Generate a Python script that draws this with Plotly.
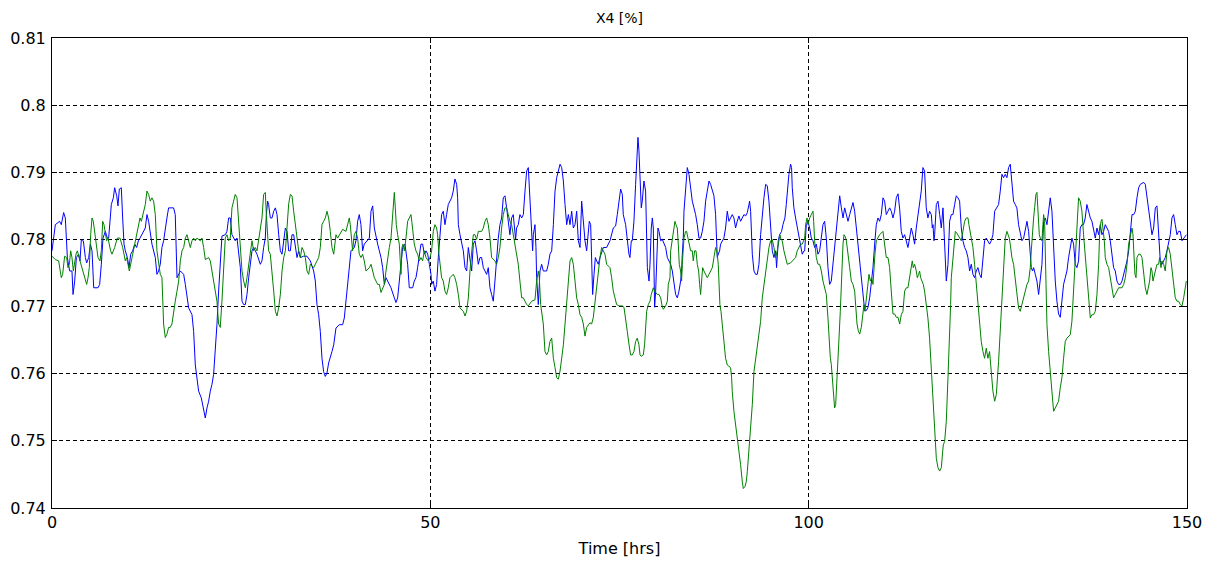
import plotly.graph_objects as go

# ---- data (time in hrs, X4 in %) ----
blue_time = [0.00, 0.44, 1.01, 1.23, 1.54, 1.76, 2.03, 2.33, 2.64, 2.78, 3.00, 3.22, 3.52, 3.70, 3.88, 4.14, 4.41, 4.58, 4.85, 5.07, 5.29, 5.51, 6.08, 6.30, 6.52, 6.74, 7.05, 7.31, 7.49, 7.67, 7.84, 8.11, 8.28, 8.55, 8.72, 8.90, 9.16, 9.34, 9.52, 9.69, 9.96, 10.18, 10.40, 10.66, 10.93, 11.19, 11.41, 11.63, 11.89, 12.16, 12.33,
             12.55, 12.77, 13.21, 13.65, 13.87, 14.09, 14.31, 14.53, 14.75, 14.97, 15.19, 15.41, 16.07, 16.29, 16.52, 16.96, 17.40, 17.62, 18.06, 18.50, 18.72, 18.94, 19.38, 19.73, 20.04, 20.26, 20.48, 20.70, 20.92, 21.14, 21.36, 21.58, 21.80, 22.02, 22.24, 22.46, 22.90, 23.12, 23.34, 23.56, 23.78, 24.22, 24.45, 24.67, 24.89, 25.11,
             25.33, 25.55, 25.77, 25.99, 26.21, 26.43, 26.65, 27.09, 27.53, 27.75, 27.97, 28.19, 28.33, 28.50, 28.63, 28.85, 29.08, 29.30, 29.52, 29.74, 29.96, 30.18, 30.40, 30.62, 30.84, 31.06, 31.28, 31.50, 31.72, 31.94, 32.16, 32.38, 32.60, 32.82, 33.26, 33.70, 34.14, 34.58, 34.80, 35.02, 35.24, 35.46, 35.68, 35.90, 36.12, 36.34, 36.56, 36.78, 37.00, 37.23, 37.45,
             37.53, 37.97, 38.41, 38.63, 38.85, 39.07, 39.29, 39.51, 39.95, 40.17, 40.39, 40.61, 40.83, 41.05, 41.27, 41.72, 41.94, 42.16, 42.38, 42.60, 42.82, 43.04, 43.26, 43.48, 43.70, 43.92, 44.14, 44.36, 44.80, 45.24, 45.46, 45.68, 45.90, 46.12, 46.34, 46.65, 46.78, 47.00, 47.22, 47.66, 47.88, 48.10, 48.32, 48.54, 48.76, 48.98, 49.21, 49.43, 49.65, 49.87, 50.09,
             50.17, 50.39, 50.61, 50.83, 51.05, 51.27, 51.49, 51.71, 51.93, 52.15, 52.37, 52.81, 53.03, 53.25, 53.48, 53.61, 53.70, 53.92, 54.14, 54.36, 54.58, 54.80, 55.02, 55.24, 55.46, 55.68, 55.90, 56.12, 56.34, 56.56, 56.78, 57.00, 57.22, 57.44, 57.66, 57.88, 58.10, 58.32, 58.54, 58.76, 58.98, 59.20, 59.42, 59.64, 59.86, 60.08, 60.30, 60.52, 60.74, 60.96, 61.27, 61.40, 61.62, 61.84,
             62.07, 62.29, 62.51, 62.73, 62.95, 63.08, 63.26, 63.39, 63.52, 63.61, 63.83, 63.96, 64.05, 64.27, 64.49, 64.71, 64.93, 65.37, 65.59, 65.81, 66.04, 66.26, 66.48, 66.70, 66.92, 67.14, 67.36, 67.58, 67.80, 68.02, 68.24, 68.46, 68.68, 68.90, 69.12, 69.34, 69.56, 69.78, 70.00, 70.22, 70.44, 70.66, 70.88, 71.01, 71.19, 71.32, 71.45, 71.63, 71.81, 71.98, 72.20, 72.42, 72.86, 73.30, 73.74, 74.18,
             74.49, 74.71, 74.93, 75.15, 75.37, 75.50, 75.81, 76.03, 76.25, 76.38, 76.56, 76.69, 76.91, 77.13, 77.35, 77.44, 77.57, 77.71, 77.88, 78.01, 78.23, 78.45, 78.59, 78.68, 78.90, 79.03, 79.20, 79.34, 79.47, 79.56, 79.64, 79.78, 79.91, 80.08, 80.22, 80.44, 80.66, 80.88, 81.10, 81.32, 81.76, 81.98, 82.20, 82.42, 82.64, 82.86, 83.08, 83.21, 83.30, 83.43, 83.52, 83.74, 83.96, 84.18, 84.40, 84.62, 84.84, 85.06, 85.28, 85.50, 85.72, 85.94, 86.16, 86.38, 86.60, 86.83,
             87.04, 87.26, 87.48, 87.70, 87.79, 87.92, 88.05, 88.23, 88.36, 88.58, 88.80, 89.02, 89.24, 89.46, 89.68, 89.90, 90.12, 90.34, 90.56, 90.78, 91.00, 91.23, 91.45, 91.67, 91.89, 92.11, 92.19, 92.33, 92.46, 92.55, 92.77, 92.99, 93.21, 93.43, 93.65, 93.87, 94.09, 94.31, 94.53, 94.75, 94.97, 95.19, 95.41, 95.63, 95.76, 95.85, 95.98, 96.16, 96.42, 96.60, 96.86, 97.04, 97.22, 97.39, 97.61, 97.74, 97.83, 98.05, 98.27, 98.49, 98.71, 98.93, 99.15, 99.38,
             99.47, 99.69, 99.91, 100.13, 100.35, 100.57, 100.79, 101.01, 101.23, 101.45, 101.67, 101.89, 102.11, 102.33, 102.55, 102.77, 102.99, 103.21, 103.43, 103.66, 103.88, 104.10, 104.32, 104.54, 104.76, 104.98, 105.20, 105.42, 105.64, 105.86, 106.08, 106.30, 106.52, 106.74, 106.96, 107.18, 107.40, 107.62, 107.84, 108.06, 108.28, 108.50, 108.72, 108.94, 109.16, 109.38, 109.60, 109.82, 110.04, 110.26, 110.48, 110.70, 110.92, 111.14, 111.36, 111.58, 111.81, 112.03,
             112.24, 112.46, 112.68, 112.90, 113.12, 113.34, 113.56, 113.78, 114.00, 114.22, 114.44, 114.66, 114.88, 115.10, 115.32, 115.54, 115.76, 115.98, 116.21, 116.34, 116.43, 116.56, 116.65, 116.87, 117.09, 117.31, 117.53, 117.75, 117.97, 118.19, 118.41, 118.63, 118.85, 119.07, 119.29, 119.51, 119.73, 119.95, 120.17, 120.39, 120.61, 120.83, 121.05, 121.27, 121.49, 121.71, 121.93, 122.15, 122.37, 122.59, 122.81, 123.03, 123.25, 123.47, 123.69, 123.91, 124.13, 124.35, 124.58, 124.80,
             125.10, 125.32, 125.54, 125.76, 125.98, 126.20, 126.42, 126.64, 126.86, 127.08, 127.30, 127.52, 127.74, 127.96, 128.18, 128.41, 128.63, 128.85, 129.07, 129.29, 129.42, 129.59, 129.73, 129.95, 130.17, 130.39, 130.61, 130.83, 131.05, 131.27, 131.49, 131.71, 131.93, 132.15, 132.37, 132.59, 132.81, 133.03, 133.25, 133.47, 133.69, 133.91, 134.13, 134.35, 134.57, 134.79, 135.01, 135.23, 135.45, 135.67, 135.89, 136.11, 136.33, 136.55, 136.77, 136.99, 137.22, 137.44,
             137.66, 137.88, 138.10, 138.32, 138.54, 138.76, 138.98, 139.20, 139.42, 139.64, 139.86, 140.08, 140.30, 140.52, 140.74, 140.96, 141.19, 141.41, 141.63, 141.85, 142.07, 142.29, 142.51, 142.73, 142.95, 143.17, 143.39, 143.61, 143.83, 144.27, 144.49, 144.71, 144.93, 145.15, 145.37, 145.59, 145.81, 146.03, 146.25, 146.47, 146.69, 146.91, 147.13, 147.35, 147.57, 147.79, 148.01, 148.23, 148.45, 148.67, 148.89, 149.11, 149.34, 149.56, 149.91]

blue_x4 = [.7783, .7822, .7827, .7822, .7840, .7832, .7773, .7753, .7753, .7718, .7738, .7773, .7778, .7768, .7800, .7798, .7773, .7765, .7773, .7793, .7783, .7728, .7728, .7733, .7763, .7802, .7812, .7802, .7802, .7827, .7852, .7862, .7877, .7865, .7850, .7875, .7877, .7832, .7793, .7783, .7773, .7758, .7778, .7783, .7793, .7788, .7798, .7802, .7807, .7812, .7817,
           .7837, .7827, .7793, .7773, .7748, .7753, .7763, .7788, .7798, .7812, .7832, .7847, .7847, .7837, .7743, .7753, .7748, .7733, .7698, .7688, .7663, .7613, .7574, .7564, .7544, .7534, .7549, .7559, .7574, .7584, .7599, .7633, .7673, .7723, .7773, .7805, .7807, .7812, .7832, .7832, .7807, .7798, .7802, .7783, .7758, .7708,
           .7703, .7703, .7718, .7743, .7763, .7783, .7788, .7778, .7763, .7768, .7788, .7802, .7837, .7857, .7852, .7832, .7832, .7842, .7847, .7837, .7807, .7783, .7778, .7798, .7817, .7812, .7783, .7783, .7807, .7807, .7788, .7773, .7783, .7773, .7775, .7775, .7768, .7753, .7738, .7703, .7688, .7663, .7623, .7603, .7596, .7601, .7616, .7623, .7633, .7643, .7658,
           .7668, .7673, .7673, .7683, .7708, .7743, .7763, .7783, .7788, .7798, .7827, .7837, .7822, .7783, .7793, .7800, .7802, .7842, .7850, .7817, .7802, .7793, .7783, .7773, .7758, .7733, .7743, .7738, .7728, .7713, .7706, .7713, .7738, .7763, .7788, .7793, .7783, .7763, .7728, .7728, .7738, .7743, .7758, .7773, .7793, .7793, .7778, .7783, .7778, .7763, .7748,
           .7733, .7738, .7723, .7733, .7773, .7807, .7837, .7842, .7822, .7837, .7852, .7862, .7872, .7890, .7882, .7862, .7822, .7807, .7793, .7783, .7758, .7753, .7788, .7773, .7753, .7793, .7798, .7783, .7763, .7773, .7773, .7758, .7753, .7748, .7758, .7728, .7718, .7708, .7738, .7773, .7802, .7822, .7832, .7862, .7865, .7847, .7822, .7807, .7832, .7837, .7800, .7817, .7822, .7837,
           .7832, .7837, .7872, .7902, .7907, .7877, .7822, .7798, .7783, .7807, .7822, .7788, .7743, .7703, .7753, .7763, .7753, .7753, .7763, .7778, .7783, .7822, .7872, .7892, .7902, .7912, .7907, .7887, .7852, .7822, .7837, .7822, .7842, .7817, .7822, .7842, .7798, .7788, .7857, .7822, .7798, .7783, .7807, .7827, .7822, .7758, .7718, .7748, .7773, .7768, .7763, .7773, .7788, .7788, .7798, .7817,
           .7820, .7837, .7857, .7875, .7867, .7837, .7822, .7798, .7778, .7773, .7798, .7798, .7827, .7882, .7942, .7952, .7932, .7882, .7847, .7857, .7887, .7872, .7817, .7758, .7738, .7763, .7817, .7832, .7817, .7763, .7699, .7723, .7763, .7817, .7812, .7798, .7800, .7793, .7788, .7773, .7763, .7753, .7733, .7718, .7713, .7723, .7738, .7753, .7778, .7802, .7842, .7882, .7907, .7897, .7872, .7857, .7847, .7837, .7822, .7802, .7802, .7812, .7827, .7857, .7872, .7887,
           .7882, .7872, .7865, .7837, .7807, .7773, .7778, .7783, .7793, .7798, .7802, .7817, .7842, .7827, .7832, .7837, .7832, .7817, .7827, .7835, .7827, .7832, .7837, .7835, .7840, .7852, .7857, .7842, .7812, .7778, .7753, .7748, .7748, .7763, .7807, .7842, .7862, .7882, .7880, .7857, .7812, .7783, .7773, .7783, .7758, .7773, .7798, .7807, .7812, .7822, .7832, .7852, .7882, .7897, .7912, .7907, .7877, .7847, .7832, .7817, .7807, .7788, .7778, .7783,
           .7783, .7822, .7827, .7817, .7802, .7798, .7788, .7793, .7778, .7783, .7807, .7822, .7827, .7802, .7758, .7733, .7738, .7763, .7793, .7812, .7842, .7865, .7847, .7832, .7847, .7837, .7827, .7837, .7847, .7855, .7842, .7817, .7788, .7763, .7743, .7718, .7694, .7694, .7699, .7713, .7733, .7758, .7793, .7822, .7832, .7827, .7837, .7862, .7857, .7837, .7842, .7847, .7842, .7832, .7842, .7862, .7868, .7845,
           .7812, .7802, .7807, .7798, .7788, .7802, .7817, .7807, .7793, .7817, .7837, .7852, .7872, .7907, .7902, .7847, .7832, .7842, .7837, .7817, .7822, .7798, .7807, .7852, .7857, .7837, .7817, .7847, .7783, .7738, .7763, .7827, .7837, .7837, .7852, .7865, .7862, .7857, .7817, .7798, .7788, .7783, .7773, .7753, .7763, .7748, .7743, .7753, .7758, .7748, .7743, .7773, .7798, .7802, .7798, .7793, .7798, .7807, .7842, .7847,
           .7852, .7872, .7897, .7892, .7897, .7892, .7907, .7912, .7887, .7857, .7852, .7847, .7822, .7812, .7798, .7802, .7817, .7827, .7812, .7773, .7758, .7753, .7758, .7748, .7738, .7718, .7743, .7763, .7827, .7832, .7822, .7847, .7862, .7842, .7783, .7738, .7708, .7689, .7684, .7713, .7733, .7743, .7753, .7773, .7788, .7802, .7793, .7763, .7758, .7768, .7817, .7822, .7822, .7832, .7852, .7842, .7832, .7827,
           .7812, .7802, .7817, .7807, .7822, .7807, .7812, .7822, .7817, .7812, .7798, .7773, .7758, .7753, .7738, .7733, .7733, .7738, .7748, .7758, .7768, .7783, .7817, .7837, .7837, .7842, .7862, .7877, .7882, .7885, .7882, .7862, .7842, .7827, .7807, .7817, .7847, .7850, .7807, .7768, .7763, .7768, .7773, .7783, .7798, .7807, .7832, .7837, .7822, .7807, .7812, .7812, .7798, .7802, .7807]

green_time = [0.00, 0.44, 0.88, 1.23, 1.41, 1.67, 1.94, 2.11, 2.29, 2.47, 2.64, 2.82, 3.17, 3.35, 3.70, 4.05, 4.41, 4.58, 4.76, 4.93, 5.11, 5.29, 5.46, 5.64, 5.81, 6.08, 6.34, 6.52, 6.70, 6.87, 7.22, 7.40, 7.75, 7.93, 8.28, 8.63, 8.99, 9.34, 9.69, 9.87, 10.22, 10.57, 10.93, 11.28, 11.45, 11.63, 11.81, 12.16, 12.33,
              12.55, 12.77, 12.99, 13.21, 13.43, 13.65, 13.87, 14.09, 14.31, 14.53, 14.62, 14.75, 14.97, 15.19, 15.41, 15.63, 15.85, 16.07, 16.29, 16.52, 16.74, 16.96, 17.18, 17.40, 17.62, 17.84, 18.06, 18.28, 18.50, 18.72, 18.94, 19.16, 19.60, 19.82, 20.04, 20.26, 20.70, 20.92, 21.14, 21.36, 21.58, 21.80, 22.02, 22.24, 22.46, 22.68, 22.90, 23.12, 23.34, 23.56, 23.78, 24.00, 24.22, 24.45, 24.67,
              24.89, 25.11, 25.33, 25.55, 25.77, 25.99, 26.21, 26.43, 26.65, 26.87, 27.09, 27.31, 27.53, 27.75, 27.97, 28.19, 28.33, 28.50, 28.63, 28.85, 29.08, 29.30, 29.52, 29.74, 29.96, 30.18, 30.40, 30.62, 30.84, 31.06, 31.28, 31.50, 31.72, 31.94, 32.16, 32.38, 32.60, 32.82, 33.04, 33.26, 33.48, 33.70, 33.92, 34.14, 34.58, 35.02, 35.24, 35.46, 35.68, 35.90, 36.12, 36.34, 36.56, 36.78, 37.00, 37.23,
              37.53, 37.75, 37.97, 38.41, 38.85, 39.07, 39.29, 39.42, 39.60, 39.73, 39.95, 40.17, 40.39, 40.61, 40.83, 41.05, 41.27, 41.50, 41.94, 42.16, 42.38, 42.60, 43.04, 43.26, 43.48, 43.70, 43.92, 44.14, 44.36, 44.58, 44.80, 45.02, 45.15, 45.24, 45.37, 45.50, 45.68, 45.90, 46.12, 46.25, 46.39, 46.56, 46.78, 47.00, 47.22, 47.44, 47.57, 47.75, 47.88, 48.10, 48.32, 48.54, 48.76, 48.98, 49.21, 49.43,
              49.73, 49.95, 50.17, 50.39, 50.61, 50.83, 50.96, 51.14, 51.27, 51.49, 51.71, 51.93, 52.15, 52.37, 52.59, 53.03, 53.25, 53.48, 53.70, 53.92, 54.36, 54.58, 54.80, 55.02, 55.24, 55.46, 55.68, 55.90, 56.12, 56.34, 56.78, 57.00, 57.22, 57.44, 57.66, 57.88, 58.10, 58.54, 58.76, 58.98, 59.20, 59.42, 59.64, 59.86, 60.08, 60.30, 60.52, 60.74, 60.96, 61.18, 61.40, 61.62, 61.84, 62.07,
              62.29, 62.51, 62.73, 62.95, 63.39, 63.83, 64.05, 64.27, 64.40, 64.58, 64.71, 64.93, 65.15, 65.37, 65.59, 65.81, 66.04, 66.17, 66.26, 66.48, 66.70, 66.92, 67.14, 67.36, 67.58, 67.80, 68.02, 68.24, 68.46, 68.68, 68.90, 69.12, 69.34, 69.56, 69.78, 70.00, 70.22, 70.44, 70.66, 71.10, 71.32, 71.54, 71.76, 71.98, 72.20, 72.42, 72.64, 72.86, 73.08, 73.30, 73.74, 73.96, 74.18, 74.40, 74.62,
              74.93, 75.37, 75.59, 75.81, 76.03, 76.25, 76.47, 76.69, 76.91, 77.13, 77.35, 77.57, 77.71, 77.88, 78.15, 78.32, 78.45, 78.59, 78.81, 79.03, 79.20, 79.47, 79.64, 80.00, 80.22, 80.44, 80.66, 80.79, 81.10, 81.32, 81.45, 81.67, 81.76, 81.98, 82.20, 82.33, 82.46, 82.64, 82.77, 82.90, 83.08, 83.21, 83.30, 83.43, 83.52, 83.74, 83.87, 84.05, 84.23, 84.40, 84.62, 84.75, 84.93, 85.11, 85.28, 85.46, 85.59, 85.72, 85.85, 85.99, 86.16, 86.38, 86.60, 86.83, 87.05, 87.27,
              87.48, 87.61, 87.70, 87.83, 87.92, 88.05, 88.14, 88.27, 88.41, 88.58, 88.80, 88.93, 89.02, 89.24, 89.46, 89.68, 89.82, 89.90, 90.12, 90.34, 90.56, 90.78, 91.00, 91.23, 91.36, 91.58, 91.75, 91.89, 92.02, 92.19, 92.33, 92.46, 92.55, 92.77, 92.99, 93.21, 93.43, 93.65, 93.87, 94.09, 94.31, 94.53, 94.75, 94.97, 95.19, 95.41, 95.63, 95.85, 96.07, 96.20, 96.34, 96.51, 96.73, 96.95, 97.17, 97.61, 98.05, 98.27, 98.49, 98.71, 98.93, 99.15, 99.38,
              99.47, 99.60, 99.78, 99.91, 100.13, 100.35, 100.57, 100.66, 100.79, 101.01, 101.23, 101.45, 101.67, 101.89, 102.11, 102.33, 102.55, 102.69, 102.86, 102.99, 103.13, 103.30, 103.43, 103.57, 103.66, 103.79, 103.92, 104.01, 104.18, 104.32, 104.45, 104.54, 104.67, 104.80, 104.98, 105.11, 105.24, 105.42, 105.64, 105.86, 106.08, 106.21, 106.39, 106.56, 106.74, 106.96, 107.18, 107.31, 107.44, 107.62, 107.84, 107.97, 108.15, 108.33, 108.50, 108.63, 108.76, 108.94, 109.16, 109.38, 109.82, 110.04, 110.26, 110.48, 110.70, 110.92, 111.14, 111.36, 111.58, 111.81, 112.03,
              112.24, 112.46, 112.68, 112.90, 113.12, 113.34, 113.56, 113.69, 113.83, 114.00, 114.22, 114.36, 114.53, 114.66, 114.80, 114.97, 115.15, 115.32, 115.54, 115.76, 115.98, 116.12, 116.21, 116.43, 116.56, 116.73, 116.87, 117.09, 117.31, 117.53, 117.66, 117.79, 117.97, 118.19, 118.41, 118.63, 118.76, 118.85, 119.07, 119.29, 119.38, 119.55, 119.73, 119.95, 120.17, 120.39, 120.61, 120.83, 121.05, 121.18, 121.32, 121.49, 121.71, 121.93, 122.15, 122.37, 122.59, 122.81, 123.03, 123.25, 123.47, 123.69, 123.91, 124.13, 124.35, 124.58, 124.80,
              125.10, 125.32, 125.54, 125.76, 125.89, 125.98, 126.20, 126.33, 126.51, 126.64, 126.86, 127.08, 127.30, 127.52, 127.74, 127.96, 128.18, 128.41, 128.63, 128.85, 129.07, 129.29, 129.42, 129.59, 129.73, 129.86, 130.03, 130.17, 130.30, 130.48, 130.61, 130.83, 130.96, 131.05, 131.18, 131.36, 131.49, 131.71, 131.93, 132.15, 132.37, 132.59, 132.81, 133.03, 133.25, 133.47, 133.69, 133.91, 134.13, 134.57, 134.79, 135.01, 135.23, 135.45, 135.67, 135.89, 136.11, 136.33, 136.55, 136.77, 136.99,
              137.22, 137.44, 137.66, 137.88, 138.10, 138.32, 138.45, 138.63, 138.76, 138.89, 139.07, 139.20, 139.42, 139.64, 139.86, 140.08, 140.30, 140.52, 140.96, 141.41, 141.63, 141.85, 142.07, 142.29, 142.51, 142.73, 142.86, 142.99, 143.12, 143.26, 143.39, 143.61, 143.83, 144.05, 144.27, 144.49, 144.71, 144.93, 145.06, 145.24, 145.37, 145.50, 145.68, 145.81, 146.03, 146.25, 146.38, 146.56, 146.69, 146.91, 147.13, 147.35, 147.57, 147.79, 148.01, 148.23, 148.45, 148.67, 148.89, 149.11, 149.34, 149.56, 149.78, 149.91]

green_x4 = [.7775, .7770, .7768, .7743, .7748, .7775, .7773, .7758, .7763, .7783, .7773, .7753, .7778, .7783, .7768, .7753, .7738, .7733, .7743, .7758, .7807, .7832, .7827, .7812, .7793, .7773, .7768, .7783, .7827, .7822, .7798, .7802, .7783, .7778, .7788, .7802, .7802, .7788, .7768, .7773, .7753, .7773, .7793, .7812, .7827, .7832, .7827, .7842, .7852,
            .7872, .7867, .7857, .7862, .7857, .7837, .7783, .7763, .7748, .7743, .7698, .7674, .7654, .7659, .7669, .7669, .7674, .7693, .7708, .7723, .7738, .7768, .7783, .7788, .7802, .7807, .7798, .7788, .7798, .7802, .7798, .7802, .7798, .7802, .7788, .7770, .7773, .7768, .7753, .7738, .7728, .7708, .7674, .7669, .7708, .7768, .7802, .7807, .7798, .7802, .7847, .7857, .7867, .7862, .7827,
            .7783, .7753, .7738, .7728, .7743, .7763, .7783, .7798, .7783, .7788, .7783, .7802, .7817, .7832, .7867, .7870, .7837, .7798, .7783, .7778, .7753, .7723, .7693, .7686, .7699, .7718, .7753, .7773, .7783, .7822, .7853, .7867, .7865, .7842, .7822, .7807, .7783, .7773, .7788, .7783, .7773, .7753, .7748, .7763, .7758, .7768, .7773, .7788, .7822, .7827, .7832, .7842, .7832, .7812, .7788, .7778,
            .7807, .7802, .7807, .7815, .7812, .7822, .7832, .7822, .7798, .7783, .7807, .7812, .7802, .7778, .7773, .7778, .7768, .7753, .7758, .7763, .7753, .7743, .7733, .7733, .7721, .7728, .7733, .7753, .7773, .7788, .7802, .7837, .7868, .7870, .7847, .7822, .7807, .7793, .7748, .7788, .7793, .7783, .7802, .7827, .7832, .7837, .7825, .7802, .7793, .7783, .7778, .7768, .7773, .7768, .7783, .7773,
            .7768, .7773, .7783, .7812, .7822, .7817, .7807, .7778, .7763, .7743, .7738, .7723, .7718, .7728, .7743, .7748, .7743, .7733, .7718, .7698, .7693, .7686, .7693, .7713, .7753, .7783, .7807, .7807, .7800, .7812, .7812, .7817, .7827, .7832, .7822, .7802, .7773, .7768, .7763, .7773, .7788, .7817, .7837, .7847, .7847, .7837, .7827, .7822, .7807, .7798, .7783, .7763, .7738, .7713,
            .7713, .7708, .7703, .7701, .7708, .7710, .7738, .7753, .7743, .7703, .7693, .7674, .7633, .7628, .7633, .7648, .7653, .7633, .7623, .7609, .7594, .7592, .7604, .7623, .7643, .7674, .7708, .7733, .7768, .7773, .7763, .7738, .7713, .7703, .7688, .7684, .7674, .7656, .7669, .7676, .7674, .7684, .7708, .7733, .7758, .7773, .7788, .7783, .7778, .7763, .7758, .7743, .7723, .7713, .7703,
            .7701, .7701, .7699, .7684, .7663, .7644, .7628, .7628, .7633, .7648, .7653, .7643, .7628, .7626, .7628, .7644, .7663, .7693, .7703, .7708, .7718, .7728, .7723, .7718, .7718, .7713, .7699, .7696, .7701, .7708, .7733, .7743, .7783, .7802, .7822, .7827, .7822, .7817, .7793, .7763, .7753, .7738, .7763, .7783, .7802, .7812, .7812, .7802, .7793, .7783, .7783, .7768, .7783, .7783, .7763, .7753, .7733, .7718, .7738, .7758, .7753, .7748, .7743, .7748, .7753, .7758,
            .7773, .7783, .7788, .7783, .7778, .7763, .7733, .7703, .7693, .7673, .7648, .7633, .7623, .7613, .7611, .7609, .7594, .7574, .7544, .7524, .7509, .7490, .7465, .7439, .7429, .7432, .7439, .7454, .7474, .7494, .7519, .7534, .7554, .7603, .7623, .7643, .7659, .7678, .7713, .7733, .7753, .7773, .7788, .7798, .7800, .7788, .7773, .7783, .7802, .7807, .7800, .7798, .7783, .7773, .7763, .7765, .7770, .7773, .7783, .7788, .7793, .7793, .7798,
            .7802, .7822, .7832, .7822, .7832, .7837, .7842, .7827, .7798, .7773, .7763, .7763, .7753, .7738, .7728, .7718, .7683, .7653, .7624, .7614, .7594, .7559, .7549, .7554, .7579, .7599, .7624, .7653, .7693, .7733, .7773, .7793, .7807, .7805, .7798, .7788, .7773, .7758, .7738, .7733, .7723, .7698, .7674, .7664, .7659, .7669, .7688, .7703, .7693, .7713, .7738, .7748, .7738, .7743, .7733, .7758, .7778, .7798, .7802, .7807, .7812, .7793, .7773, .7773, .7758, .7723, .7689, .7689, .7684, .7684, .7674,
            .7688, .7693, .7723, .7728, .7728, .7743, .7763, .7768, .7758, .7763, .7753, .7743, .7748, .7753, .7743, .7738, .7733, .7723, .7703, .7683, .7653, .7623, .7599, .7569, .7524, .7499, .7474, .7460, .7455, .7460, .7474, .7494, .7499, .7529, .7594, .7648, .7703, .7743, .7773, .7807, .7812, .7810, .7807, .7802, .7798, .7812, .7827, .7832, .7832, .7822, .7812, .7802, .7788, .7763, .7733, .7698, .7674, .7648, .7633, .7623, .7638, .7623, .7633, .7604, .7574, .7559, .7569,
            .7618, .7664, .7703, .7743, .7783, .7802, .7812, .7807, .7802, .7793, .7773, .7763, .7738, .7718, .7698, .7693, .7703, .7713, .7723, .7733, .7738, .7758, .7783, .7822, .7832, .7847, .7867, .7870, .7832, .7807, .7802, .7798, .7822, .7837, .7827, .7743, .7673, .7633, .7604, .7564, .7544, .7549, .7554, .7559, .7579, .7594, .7623, .7648, .7653, .7658, .7678, .7723, .7773, .7822, .7862, .7857, .7842, .7807, .7773, .7738, .7708,
            .7683, .7688, .7688, .7693, .7718, .7763, .7807, .7827, .7830, .7817, .7798, .7773, .7763, .7758, .7743, .7723, .7713, .7718, .7728, .7728, .7733, .7743, .7763, .7793, .7807, .7817, .7807, .7773, .7748, .7743, .7773, .7778, .7778, .7773, .7753, .7728, .7718, .7728, .7738, .7758, .7753, .7738, .7748, .7753, .7763, .7763, .7773, .7758, .7768, .7763, .7753, .7783, .7788, .7778, .7753, .7733, .7713, .7708, .7708, .7703, .7701, .7713, .7733, .7738]

x_ticks = [0, 50, 100, 150]
y_ticks = [0.74, 0.75, 0.76, 0.77, 0.78, 0.79, 0.80, 0.81]
y_tick_text = ["0.74", "0.75", "0.76", "0.77", "0.78", "0.79", "0.8", "0.81"]

FONT = "DejaVu Sans, Verdana, sans-serif"

fig = go.Figure()
fig.add_trace(go.Scatter(x=blue_time, y=blue_x4, mode="lines",
                         line=dict(color="#0000FF", width=1), showlegend=False))
fig.add_trace(go.Scatter(x=green_time, y=green_x4, mode="lines",
                         line=dict(color="#008000", width=1), showlegend=False))

axis_common = dict(
    showgrid=True, gridcolor="black", griddash="4px,3px", gridwidth=1,
    showline=True, linecolor="black", linewidth=1, mirror="ticks",
    ticks="inside", ticklen=5, tickcolor="black", zeroline=False,
    automargin=False,
    tickfont=dict(family=FONT, size=16, color="black"),
)

fig.update_xaxes(range=[0, 150], tickvals=x_ticks, ticktext=[str(v) for v in x_ticks],
                 title=dict(text="Time [hrs]", font=dict(family=FONT, size=16, color="black"), standoff=11),
                 **axis_common)
fig.update_yaxes(range=[0.74, 0.81], tickvals=y_ticks, ticktext=y_tick_text,
                 ticklabelstandoff=2, **axis_common)

fig.update_layout(
    width=1208, height=564,
    margin=dict(l=52, r=21, t=38, b=56),
    paper_bgcolor="white", plot_bgcolor="white",
    title=dict(text="X4 [%]", x=0.5, xanchor="center", xref="paper",
               y=1 - 18 / 564, yanchor="middle", automargin=False,
               font=dict(family=FONT, size=14, color="black")),
)

fig.write_html("out.html")
